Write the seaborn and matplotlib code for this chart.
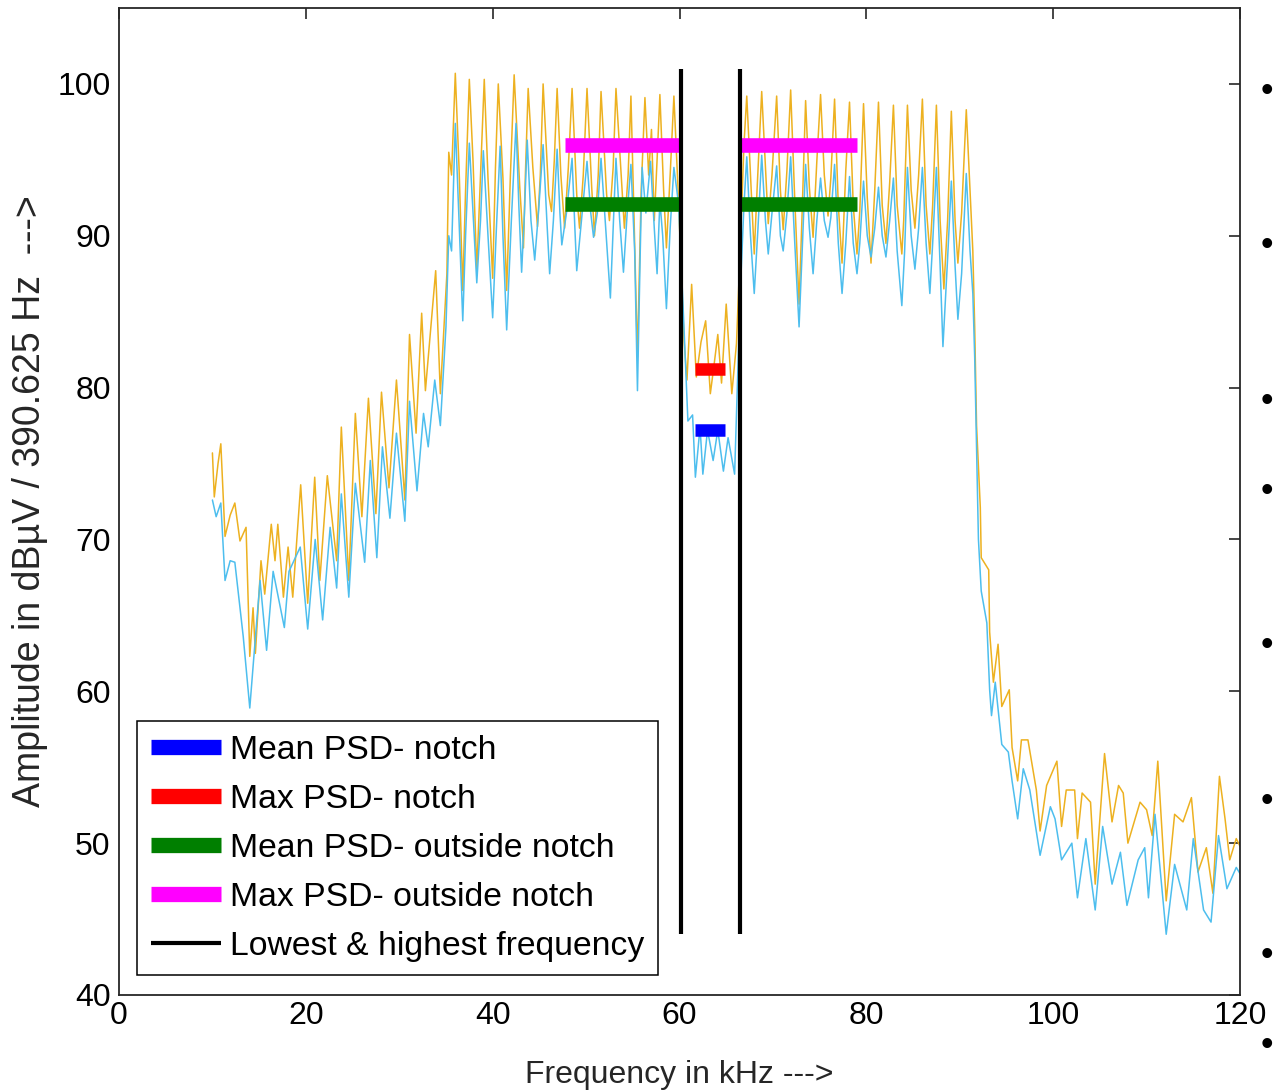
import matplotlib
matplotlib.use("Agg")
import matplotlib.pyplot as plt
from matplotlib.lines import Line2D
import pandas as pd
import seaborn as sns

# ---------------- data ----------------
# Max PSD trace (orange)
max_x = [10.0, 10.2, 10.6, 10.9, 11.35, 11.9, 12.4, 12.95, 13.6, 14.0, 14.35, 14.6, 15.2, 15.6,
         16.3, 16.7, 17.0, 17.6, 18.1, 18.6, 19.45, 20.2, 20.95, 21.5, 22.3, 23.3, 23.8, 24.6,
         25.3, 26.0, 26.7, 27.5, 28.1, 28.9, 29.7, 30.6, 31.1, 31.8, 32.4, 32.8, 33.9, 34.4,
         35.1, 35.3, 35.6, 36.0, 36.4, 36.8, 37.1, 37.5, 37.9, 38.3, 38.7, 39.1, 39.5, 40.0,
         40.3, 40.6, 41.1, 41.5, 41.9, 42.3, 42.9, 43.3, 43.5, 43.8, 44.3, 44.8, 45.1, 45.4,
         46.0, 46.3, 46.6, 46.9, 47.3, 47.7, 48.1, 48.5, 49.0, 49.3, 49.7, 50.1, 50.6, 50.9,
         51.3, 51.6, 52.2, 52.5, 52.9, 53.2, 53.8, 54.1, 54.5, 54.8, 55.1, 55.5, 55.9, 56.3,
         56.7, 57.0, 57.3, 57.6, 57.9, 58.3, 58.6, 59.0, 59.4, 59.9, 60.2, 60.5, 60.8, 61.3,
         61.8, 62.3, 62.8, 63.3, 63.7, 64.1, 64.5, 65.0, 65.6, 66.1, 66.5, 66.9, 67.2, 67.6,
         68.0, 68.3, 68.8, 69.2, 69.5, 69.9, 70.4, 70.8, 71.1, 71.5, 71.9, 72.3, 72.8, 73.1,
         73.5, 73.9, 74.3, 74.7, 75.1, 75.5, 75.9, 76.2, 76.6, 77.0, 77.4, 77.8, 78.2, 78.6,
         79.0, 79.3, 79.7, 80.1, 80.5, 80.9, 81.3, 81.7, 82.1, 82.5, 82.9, 83.3, 83.8, 84.0,
         84.4, 84.8, 85.2, 85.6, 86.0, 86.4, 86.8, 87.1, 87.5, 87.9, 88.3, 88.7, 89.1, 89.5,
         89.8, 90.2, 90.7, 91.1, 91.4, 91.6, 91.8, 92.2, 92.3, 93.1, 93.2, 93.6, 94.1, 94.5,
         95.3, 95.6, 96.2, 96.6, 97.3, 98.2, 98.6, 99.3, 100.4, 100.9, 101.4, 102.3, 102.6,
         103.1, 104.0, 104.5, 105.5, 106.3, 107.0, 107.5, 108.0, 109.3, 110.0, 110.6, 111.2,
         112.1, 113.0, 113.9, 114.8, 115.5, 116.4, 117.1, 117.8, 118.4, 118.9, 119.6, 120.0]
max_y = [75.7, 72.8, 75.0, 76.3, 70.2, 71.6, 72.4, 69.9, 70.8, 62.3, 65.5, 62.5, 68.6, 66.4,
         71.0, 68.6, 71.0, 66.2, 69.5, 66.2, 73.6, 65.8, 74.1, 67.3, 74.2, 68.6, 77.4, 67.3,
         78.3, 71.5, 79.3, 71.7, 79.7, 73.4, 80.5, 72.6, 83.5, 77.0, 84.9, 79.8, 87.7, 79.6,
         87.5, 95.5, 94.0, 100.7, 94.5, 86.4, 93.0, 100.3, 94.9, 87.7, 94.0, 100.3, 93.8, 87.2,
         94.5, 100.0, 93.8, 86.4, 94.0, 100.6, 93.2, 89.2, 94.0, 99.7, 94.5, 90.6, 94.0, 100.0,
         92.7, 91.6, 95.0, 99.7, 94.0, 90.5, 94.5, 99.7, 92.7, 90.5, 94.0, 99.7, 93.2, 90.0,
         94.0, 99.5, 92.7, 91.0, 94.5, 99.7, 93.6, 90.5, 94.0, 99.2, 92.0, 82.0, 93.0, 99.1,
         94.0, 97.0, 91.0, 95.0, 99.3, 93.0, 89.2, 94.0, 99.2, 92.3, 87.3, 83.0, 80.5, 86.8,
         80.7, 83.0, 84.4, 79.6, 81.5, 83.5, 80.3, 85.5, 79.6, 82.9, 89.2, 96.0, 99.2, 94.0,
         88.8, 93.0, 99.5, 94.5, 90.8, 94.0, 99.2, 93.0, 90.4, 94.3, 99.6, 93.0, 85.5, 91.0,
         98.9, 93.2, 89.9, 94.9, 99.3, 94.0, 91.3, 93.8, 99.0, 92.0, 88.2, 94.3, 98.8, 92.0,
         88.8, 91.6, 98.7, 92.5, 88.2, 93.0, 98.8, 92.0, 89.5, 93.5, 98.6, 92.0, 88.8, 91.0,
         98.6, 93.0, 90.5, 94.0, 99.0, 92.0, 88.8, 92.0, 98.6, 91.0, 86.5, 91.0, 98.2, 91.0,
         88.2, 91.5, 98.3, 93.0, 89.0, 84.0, 77.5, 72.1, 68.8, 68.0, 63.9, 60.6, 63.1, 59.0,
         60.1, 56.3, 54.1, 56.8, 56.8, 53.5, 50.8, 53.8, 55.4, 51.1, 53.5, 53.5, 50.3,
         53.3, 52.7, 47.3, 55.9, 51.4, 53.8, 53.3, 50.0, 52.7, 52.2, 50.5, 55.4,
         46.2, 51.9, 51.4, 53.0, 48.1, 49.7, 46.7, 54.4, 51.6, 48.9, 50.3, 49.8]

# Mean PSD trace (light blue)
mean_x = [10.0, 10.4, 10.9, 11.35, 11.9, 12.4, 13.3, 14.0, 14.4, 15.1, 15.8, 16.5, 17.7, 18.2,
          19.4, 20.2, 21.0, 21.8, 22.6, 23.3, 23.8, 24.6, 25.3, 26.3, 26.9, 27.6, 28.2, 29.0,
          29.7, 30.6, 31.1, 31.9, 32.6, 33.1, 33.8, 34.4, 35.0, 35.3, 35.6, 36.0, 36.4, 36.8,
          37.1, 37.5, 37.9, 38.3, 38.7, 39.0, 39.5, 40.0, 40.4, 40.8, 41.1, 41.5, 42.0, 42.5,
          42.8, 43.1, 43.4, 43.7, 44.1, 44.5, 44.9, 45.4, 45.8, 46.1, 46.5, 46.9, 47.2, 47.4,
          47.9, 48.5, 48.8, 49.0, 49.5, 50.1, 50.5, 50.8, 51.2, 51.6, 52.1, 52.6, 52.9, 53.2,
          53.6, 54.0, 54.4, 54.8, 55.2, 55.5, 55.8, 56.0, 56.4, 56.9, 57.3, 57.6, 57.9, 58.2,
          58.6, 59.0, 59.4, 59.9, 60.4, 60.9, 61.4, 61.7, 62.2, 62.5, 63.0, 63.6, 64.1, 64.7,
          65.2, 65.9, 66.5, 66.9, 67.2, 67.6, 68.0, 68.4, 68.8, 69.2, 69.5, 69.9, 70.4, 70.8,
          71.1, 71.5, 71.9, 72.3, 72.8, 73.1, 73.5, 73.9, 74.3, 74.7, 75.1, 75.5, 75.9, 76.2,
          76.6, 77.0, 77.4, 77.8, 78.2, 78.6, 79.0, 79.3, 79.7, 80.1, 80.5, 80.9, 81.3, 81.7,
          82.1, 82.5, 82.9, 83.3, 83.8, 84.1, 84.4, 84.8, 85.2, 85.6, 86.0, 86.4, 86.8, 87.1,
          87.5, 87.9, 88.2, 88.7, 89.1, 89.5, 89.8, 90.2, 90.7, 91.1, 91.4, 91.6, 91.8, 92.0,
          92.3, 92.9, 93.2, 93.4, 93.8, 94.5, 95.2, 95.6, 96.2, 96.8, 97.5, 98.6, 99.7, 100.2,
          100.9, 102.0, 102.6, 103.5, 104.5, 105.3, 106.3, 107.2, 107.9, 109.1, 109.8, 110.2,
          110.9, 112.1, 113.0, 114.3, 115.0, 116.1, 116.9, 117.7, 118.6, 119.6, 120.0]
mean_y = [72.6, 71.5, 72.4, 67.3, 68.6, 68.5, 63.6, 58.9, 62.0, 67.3, 62.7, 67.9, 64.2, 67.9,
          69.5, 64.1, 70.0, 64.7, 70.8, 66.8, 73.0, 66.2, 73.7, 68.5, 75.2, 68.8, 76.1, 71.4,
          77.0, 71.2, 79.1, 73.2, 78.3, 76.1, 80.5, 77.5, 84.0, 90.0, 89.0, 97.4, 91.0, 84.4,
          90.0, 96.1, 91.5, 86.9, 91.0, 95.6, 90.0, 84.6, 90.5, 95.9, 90.0, 83.8, 91.0, 97.4,
          92.0, 87.6, 91.5, 96.3, 91.0, 88.4, 91.5, 96.0, 91.0, 87.5, 91.0, 95.7, 91.5, 89.4,
          91.5, 95.1, 90.5, 87.7, 91.0, 94.9, 91.5, 89.9, 91.5, 95.1, 90.5, 85.9, 90.5, 95.1,
          91.0, 87.6, 91.5, 94.7, 89.0, 79.8, 89.0, 94.5, 91.5, 94.9, 90.5, 87.5, 92.3, 90.0,
          85.2, 90.5, 94.5, 92.1, 85.1, 77.8, 78.2, 74.1, 77.4, 74.3, 77.2, 75.2, 77.2, 74.5,
          76.7, 74.3, 86.2, 92.0, 95.2, 90.0, 86.2, 90.5, 95.3, 91.0, 88.8, 91.5, 94.6, 90.0,
          89.0, 91.5, 95.2, 90.0, 84.0, 88.5, 94.7, 90.5, 87.5, 91.0, 93.8, 91.0, 89.9, 91.2,
          94.7, 89.5, 86.2, 89.5, 93.9, 89.5, 87.5, 89.5, 93.6, 90.0, 88.6, 90.5, 93.2, 90.0,
          88.6, 91.0, 93.8, 89.0, 85.4, 89.0, 94.5, 90.0, 87.8, 90.5, 94.5, 89.5, 86.2, 89.5,
          94.5, 88.0, 82.7, 88.5, 93.6, 88.0, 84.5, 87.5, 94.1, 89.0, 86.2, 82.0, 76.0, 70.0,
          66.6, 64.5, 60.1, 58.4, 60.6, 56.5, 56.0, 54.1, 51.6, 54.9, 53.5, 49.2, 52.4, 51.6,
          48.9, 50.0, 46.4, 50.3, 45.6, 51.1, 47.3, 49.4, 45.9, 48.9, 49.7, 46.4,
          51.9, 44.0, 48.6, 45.6, 50.3, 45.6, 44.8, 50.5, 47.0, 48.4, 48.0]

edge_freqs = [60.15, 66.5]           # lowest & highest frequency (kHz)
edge_range = [44.0, 101.0]           # vertical extent of the edge lines (dB)
outside_starts = [47.7, 66.5]
outside_ends = [60.0, 79.0]
mean_outside = 92.1
max_outside = 96.0
notch_start, notch_end = 61.7, 64.9
mean_notch = 77.2
max_notch = 81.2

x_ticks = [0, 20, 40, 60, 80, 100, 120]
y_ticks = [40, 50, 60, 70, 80, 90, 100]
side_marks_y = [87, 242, 397, 487, 642, 797, 952, 1042]   # cropped neighbour labels (px)

legend_labels = ["Mean PSD- notch", "Max PSD- notch", "Mean PSD- outside notch",
                 "Max PSD- outside notch", "Lowest & highest frequency"]

# ---------------- styling ----------------
sns.set_theme(style="white")
plt.rcParams["font.family"] = ["Liberation Sans", "DejaVu Sans"]

W, H = 1274, 1090
fig = plt.figure(figsize=(W / 100, H / 100), dpi=100)
ax = fig.add_axes([119 / W, 1 - 995 / H, (1240 - 119) / W, (995 - 8) / H])

c_max = "#EDB120"
c_mean = "#4DBEEE"

df_max = pd.DataFrame({"f": max_x, "a": max_y})
df_mean = pd.DataFrame({"f": mean_x, "a": mean_y})
sns.lineplot(data=df_max, x="f", y="a", sort=False, estimator=None, color=c_max,
             lw=1.1, ax=ax, zorder=2)
sns.lineplot(data=df_mean, x="f", y="a", sort=False, estimator=None, color=c_mean,
             lw=1.1, ax=ax, zorder=2)

# summary bars
ax.hlines([max_outside] * 2, outside_starts, outside_ends, colors="#FF00FF", lw=10.5,
          capstyle="butt", zorder=3)
ax.hlines([mean_outside] * 2, outside_starts, outside_ends, colors="#007F00", lw=10.5,
          capstyle="butt", zorder=3)
ax.hlines([max_notch], [notch_start], [notch_end], colors="#FF0000", lw=9, capstyle="butt",
          zorder=3)
ax.hlines([mean_notch], [notch_start], [notch_end], colors="#0000FF", lw=9, capstyle="butt",
          zorder=3)
ax.vlines(edge_freqs, edge_range[0], edge_range[1], colors="black", lw=3, zorder=4)

ax.set_xlim(0, 120)
ax.set_ylim(40, 105)
ax.set_xticks(x_ticks)
ax.set_yticks(y_ticks)
ax.tick_params(direction="in", length=8, width=1.2, colors="#262626", labelsize=23,
               top=True, right=True, labelcolor="black")
ax.tick_params(axis="x", pad=4)
ax.tick_params(axis="y", pad=6)
for s in ax.spines.values():
    s.set_color("#262626")
    s.set_linewidth(1.3)

ax.set_xlabel("Frequency in kHz --->", fontsize=23, color="#262626")
ax.set_ylabel("Amplitude in dBµV / 390.625 Hz  --->", fontsize=27, color="#262626")
ax.xaxis.set_label_coords(0.5, -0.066)
ax.yaxis.set_label_coords(-0.063, 0.5)

handles = [Line2D([], [], color="#0000FF", lw=11, solid_capstyle="butt"),
           Line2D([], [], color="#FF0000", lw=11, solid_capstyle="butt"),
           Line2D([], [], color="#007F00", lw=11, solid_capstyle="butt"),
           Line2D([], [], color="#FF00FF", lw=11, solid_capstyle="butt"),
           Line2D([], [], color="black", lw=3, solid_capstyle="butt")]
leg = ax.legend(handles, legend_labels, loc="lower left",
                bbox_to_anchor=((137 - 119) / 1121, (995 - 975) / 987),
                borderaxespad=0, frameon=True, fancybox=False, fontsize=24.3,
                handlelength=2.1, handletextpad=0.27, labelspacing=0.53, borderpad=0.4)
leg.get_frame().set_edgecolor("black")
leg.get_frame().set_linewidth(1.1)
leg.get_frame().set_alpha(1)
for t in leg.get_texts():
    t.set_color("black")

for yp in side_marks_y:
    fig.text(1261 / W, 1 - yp / H, "•", fontsize=26, ha="left", va="center_baseline",
             color="black")

fig.savefig("out.png", dpi=100)
